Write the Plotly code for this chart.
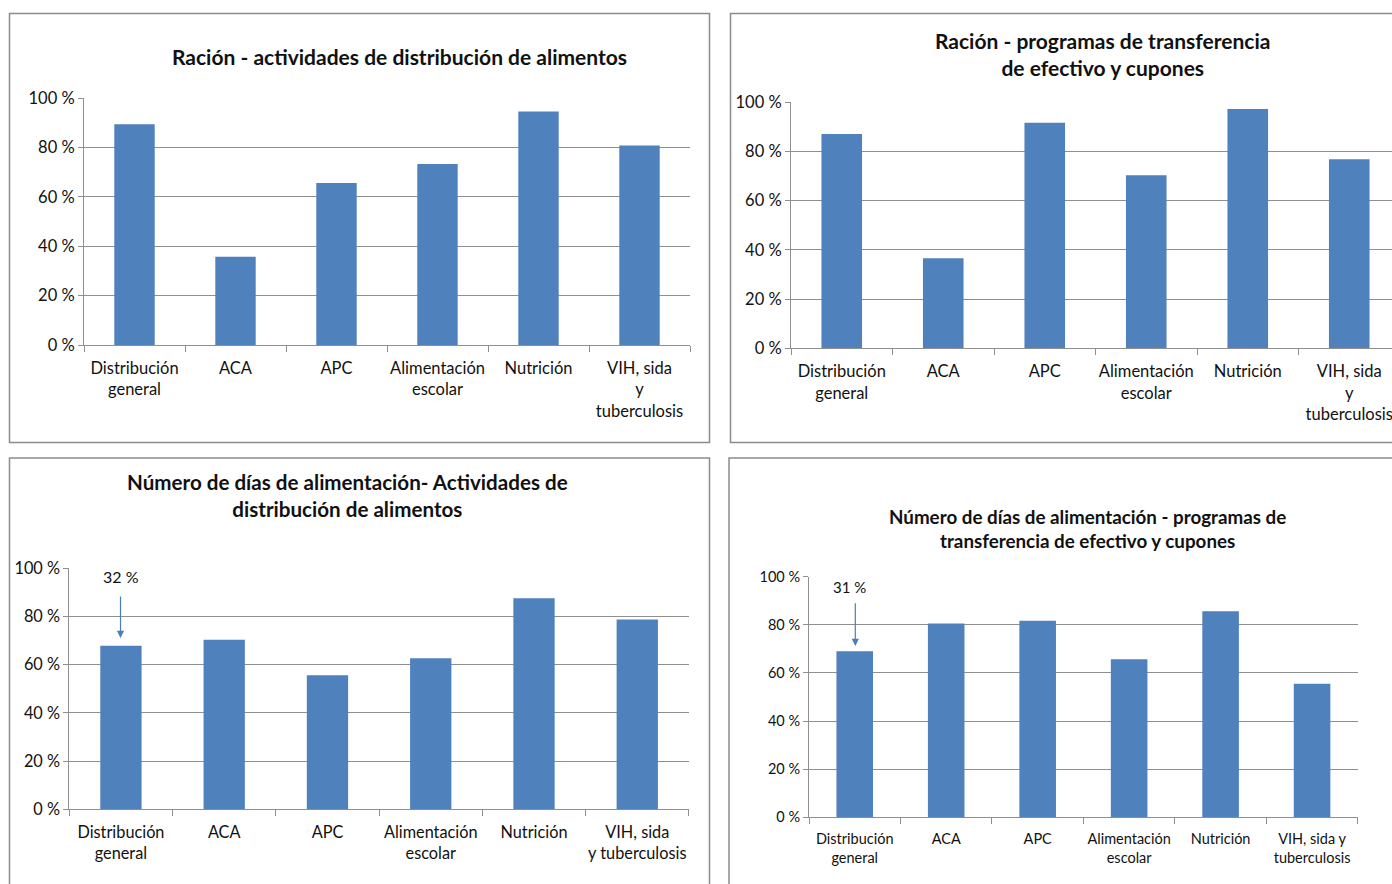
import plotly.graph_objects as go

# Figure size in pixels
W, H = 1392, 884

# Data
categories = ["Distribución general", "ACA", "APC", "Alimentación escolar",
              "Nutrición", "VIH, sida y tuberculosis"]

racion_alimentos = [89.5, 35.8, 65.7, 73.4, 94.6, 80.9]
racion_efectivo = [87.1, 36.6, 91.7, 70.3, 97.3, 76.8]
dias_alimentos = [67.9, 70.4, 55.6, 62.7, 87.6, 78.8]
dias_efectivo = [69.0, 80.6, 81.7, 65.7, 85.6, 55.5]

labels_p1 = ["Distribución<br>general", "ACA", "APC", "Alimentación<br>escolar",
             "Nutrición", "VIH, sida<br>y<br>tuberculosis"]
labels_p2 = labels_p1
labels_p3 = ["Distribución<br>general", "ACA", "APC", "Alimentación<br>escolar",
             "Nutrición", "VIH, sida<br>y tuberculosis"]
labels_p4 = ["Distribución<br>general", "ACA", "APC", "Alimentación<br>escolar",
             "Nutrición", "VIH, sida y<br>tuberculosis"]

y_ticks = [0, 20, 40, 60, 80, 100]
y_ticktext = ["0 %", "20 %", "40 %", "60 %", "80 %", "100 %"]

titles = [
    "Ración - actividades de distribución de alimentos",
    "Ración - programas de transferencia<br>de efectivo y cupones",
    "Número de días de alimentación- Actividades de<br>distribución de alimentos",
    "Número de días de alimentación - programas de<br>transferencia de efectivo y cupones",
]
notes = ["32 %", "31 %"]

BAR = "#4f81bd"
GRID = "#8f8f8f"
BORDER = "#8c8c8c"
FONT = "Lato"
TXT = "#111111"


def px(x):
    return x / W


def py(y):
    return 1 - y / H


fig = go.Figure()

panels = [
    # values, labels, x-domain px, y (0%, 100%) px, x range, tick font size
    (racion_alimentos, labels_p1, (84, 690), (345, 98.3), [-0.5, 5.5], 16.5),
    (racion_efectivo, labels_p2, (791, W), (348.3, 102.3), [-0.5, -0.5 + (W - 791) / 101.5], 16.5),
    (dias_alimentos, labels_p3, (69.3, 688.9), (809.3, 568.3), [-0.5, 5.5], 16.3),
    (dias_efectivo, labels_p4, (809, 1357.8), (817.3, 576.7), [-0.5, 5.5], 14.5),
]

layout_axes = {}
for i, (vals, labs, (x0, x1), (y0, y1), xr, fs) in enumerate(panels, start=1):
    sfx = "" if i == 1 else str(i)
    fig.add_trace(go.Bar(
        x=categories, y=vals, xaxis="x" + sfx, yaxis="y" + sfx,
        marker=dict(color=BAR, line=dict(width=0)), width=0.4,
        showlegend=False, hoverinfo="x+y",
    ))
    layout_axes["xaxis" + sfx] = dict(
        domain=[px(x0), min(px(x1), 1)], anchor="y" + sfx,
        type="category", categoryorder="array", categoryarray=categories,
        range=xr, tickson="boundaries", ticks="outside", ticklen=6,
        tickcolor=GRID, showline=True, linecolor=GRID, linewidth=1,
        showgrid=False, tickvals=categories, ticktext=labs,
        tickfont=dict(family=FONT, size=fs, color=TXT), tickangle=0,
        ticklabelstandoff=8, automargin=False, fixedrange=True,
    )
    layout_axes["yaxis" + sfx] = dict(
        domain=[py(y0), py(y1)], anchor="x" + sfx, range=[0, 100],
        tickvals=y_ticks, ticktext=y_ticktext, ticks="outside", ticklen=5,
        tickcolor=GRID, showline=True, linecolor=GRID, linewidth=1,
        showgrid=True, gridcolor=GRID, gridwidth=1, zeroline=False,
        tickfont=dict(family=FONT, size=fs, color=TXT), automargin=False,
        fixedrange=True,
    )

fig.update_layout(**layout_axes)

# Panel frames
frames = [(9.5, 13.5, 709.5, 442.5), (730.5, 13.5, W + 10, 442.5),
          (9.5, 458, 709.5, H + 10), (729, 458, W + 10, H + 10)]
shapes = []
for (a, b, c, d) in frames:
    shapes.append(dict(type="rect", xref="paper", yref="paper",
                       x0=px(a), x1=px(c), y0=py(d), y1=py(b),
                       line=dict(color=BORDER, width=1.5), layer="below"))

# Titles
title_pos = [(399, 57, 21), (1102, 54, 21), (347, 495, 20.6), (1087, 528, 18.8)]
annotations = []
for t, (cx, cy, fs) in zip(titles, title_pos):
    annotations.append(dict(text="<b>" + t + "</b>", x=px(cx), y=py(cy),
                            xref="paper", yref="paper", showarrow=False,
                            xanchor="center", yanchor="middle",
                            font=dict(family=FONT, size=fs, color=TXT)))

# Callouts above the first bar of the lower charts
callouts = [(notes[0], 121.3, 576.7, 120.5, 595, 638, 16),
            (notes[1], 849, 586.7, 855.3, 601.7, 646, 15)]
for txt, tx, ty, axp, ys, ye, fs in callouts:
    annotations.append(dict(text=txt, x=px(tx), y=py(ty), xref="paper", yref="paper",
                            showarrow=False, xanchor="center", yanchor="middle",
                            font=dict(family=FONT, size=fs, color=TXT)))
    annotations.append(dict(text="", x=px(axp), y=py(ye), xref="paper", yref="paper",
                            showarrow=True, ax=0, ay=-(ye - ys), arrowhead=2,
                            arrowsize=1.2, arrowwidth=1.2, arrowcolor="#4a7ebb",
                            standoff=0))

fig.update_layout(
    width=W, height=H,
    margin=dict(l=0, r=0, t=0, b=0, pad=0, autoexpand=False),
    paper_bgcolor="white", plot_bgcolor="white",
    shapes=shapes, annotations=annotations, bargap=0.6,
    font=dict(family=FONT, color=TXT),
)

fig.write_html("out.html", config={"displayModeBar": False})
